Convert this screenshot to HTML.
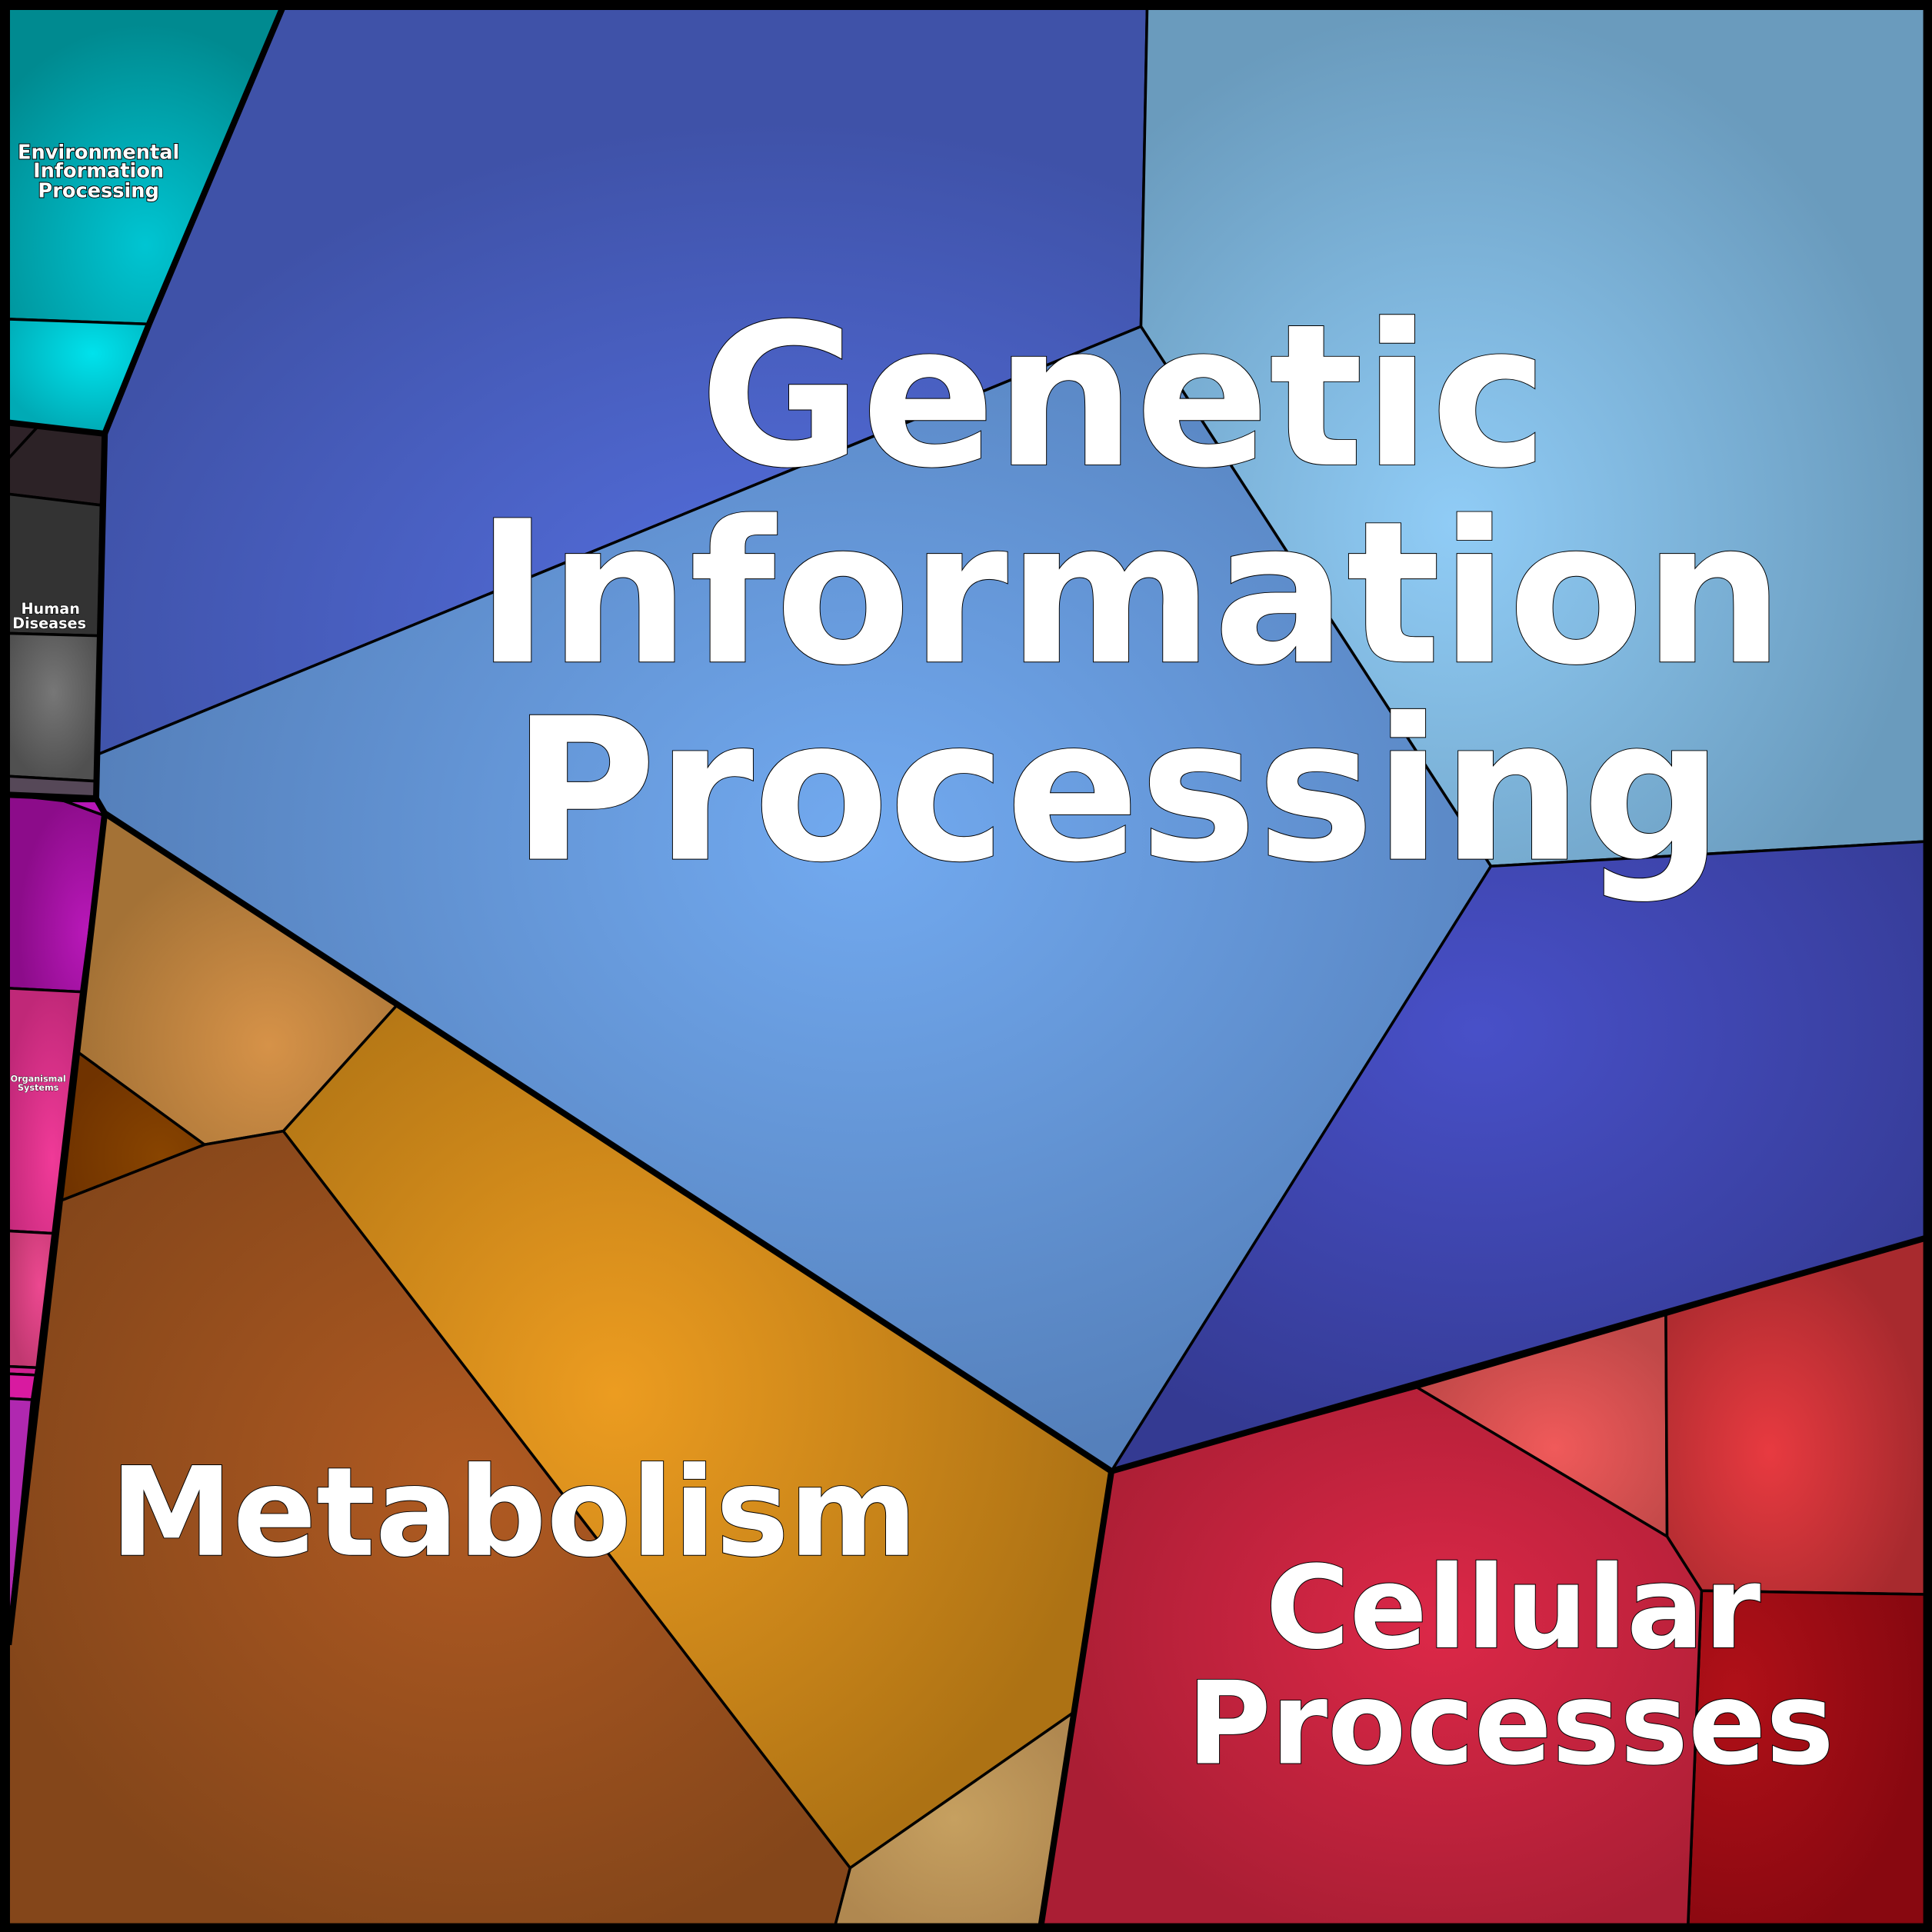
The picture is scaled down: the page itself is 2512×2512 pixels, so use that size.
<!DOCTYPE html>
<html><head><meta charset="utf-8"><style>
html,body{margin:0;padding:0;background:#000;}
svg{display:block}
text{font-family:"DejaVu Sans","Liberation Sans",sans-serif;font-weight:bold;fill:#fff;text-anchor:middle}
</style></head><body>
<svg width="2512" height="2512" viewBox="0 0 1568 1568" xmlns="http://www.w3.org/2000/svg">
<defs>
<radialGradient id="gEnv1" cx="0.5" cy="0.75" r="0.7"><stop offset="0" stop-color="#00c5d2"/><stop offset="1" stop-color="#008a90"/></radialGradient>
<radialGradient id="gEnv2" cx="0.6" cy="0.3" r="0.7"><stop offset="0" stop-color="#00e2ec"/><stop offset="1" stop-color="#00aab5"/></radialGradient>
<radialGradient id="gBlue1" cx="0.65" cy="0.85" r="0.7"><stop offset="0" stop-color="#5570e0"/><stop offset="1" stop-color="#3f52a8"/></radialGradient>
<radialGradient id="gLB" cx="0.4" cy="0.6" r="0.6"><stop offset="0" stop-color="#90ccf6"/><stop offset="1" stop-color="#6a9bbd"/></radialGradient>
<radialGradient id="gC" cx="0.55" cy="0.45" r="0.55"><stop offset="0" stop-color="#72aaf0"/><stop offset="1" stop-color="#5580bb"/></radialGradient>
<radialGradient id="gDB" cx="0.45" cy="0.3" r="0.7"><stop offset="0" stop-color="#4850c8"/><stop offset="1" stop-color="#343a92"/></radialGradient>
<radialGradient id="gTan" cx="0.6" cy="0.7" r="0.6"><stop offset="0" stop-color="#d69248"/><stop offset="1" stop-color="#a47236"/></radialGradient>
<radialGradient id="gDBr" cx="0.7" cy="0.7" r="0.7"><stop offset="0" stop-color="#884400"/><stop offset="1" stop-color="#703300"/></radialGradient>
<radialGradient id="gBr" cx="0.55" cy="0.45" r="0.6"><stop offset="0" stop-color="#b05a22"/><stop offset="1" stop-color="#84461a"/></radialGradient>
<radialGradient id="gOr" cx="0.4" cy="0.45" r="0.6"><stop offset="0" stop-color="#ec9c20"/><stop offset="1" stop-color="#ad7214"/></radialGradient>
<radialGradient id="gLT" cx="0.5" cy="0.5" r="0.6"><stop offset="0" stop-color="#c6a060"/><stop offset="1" stop-color="#b08850"/></radialGradient>
<radialGradient id="gSal" cx="0.55" cy="0.6" r="0.6"><stop offset="0" stop-color="#f05a5a"/><stop offset="1" stop-color="#c04848"/></radialGradient>
<radialGradient id="gRed" cx="0.4" cy="0.6" r="0.6"><stop offset="0" stop-color="#e83a40"/><stop offset="1" stop-color="#a82a2e"/></radialGradient>
<radialGradient id="gDR" cx="0.2" cy="0.3" r="0.8"><stop offset="0" stop-color="#b01018"/><stop offset="1" stop-color="#880810"/></radialGradient>
<radialGradient id="gCr" cx="0.6" cy="0.45" r="0.6"><stop offset="0" stop-color="#dc2848"/><stop offset="1" stop-color="#aa1e34"/></radialGradient>
<radialGradient id="gGray" cx="0.5" cy="0.4" r="0.6"><stop offset="0" stop-color="#777"/><stop offset="1" stop-color="#505050"/></radialGradient>
<radialGradient id="gMag" cx="0.8" cy="0.7" r="0.7"><stop offset="0" stop-color="#b818b8"/><stop offset="1" stop-color="#8c0c8a"/></radialGradient>
<radialGradient id="gPink" cx="0.6" cy="0.7" r="0.7"><stop offset="0" stop-color="#f03a98"/><stop offset="1" stop-color="#c02878"/></radialGradient>
<radialGradient id="gPink2" cx="0.7" cy="0.4" r="0.7"><stop offset="0" stop-color="#ec4890"/><stop offset="1" stop-color="#c03870"/></radialGradient>
</defs>
<rect width="1568" height="1568" fill="#000"/>
<g stroke="#000" stroke-width="2.2" stroke-linejoin="round">
<polygon points="7,7 229,7 121,263 7,259" fill="url(#gEnv1)"/>
<polygon points="7,259 121,263 85,352 7,343" fill="url(#gEnv2)"/>
<polygon points="7,343 30,347 7,372" fill="#2e2228"/>
<polygon points="30,347 85,352 82,410 7,401 7,372" fill="#2c2226"/>
<polygon points="7,401 82,410 80,516 7,514" fill="#333333"/>
<polygon points="7,514 80,516 78,634 7,630" fill="url(#gGray)"/>
<polygon points="7,630 78,634 78,648 7,645" fill="#564858"/>
<polygon points="7,645 52,650 85,662 66,805 7,802" fill="url(#gMag)"/>
<polygon points="52,650 78,650 85,662" fill="#b818b8"/>
<polygon points="7,802 66,805 43,1001 7,999" fill="url(#gPink)"/>
<polygon points="7,999 43,1001 30,1110 7,1109" fill="url(#gPink2)"/>
<polygon points="7,1109 30,1110 29,1116 7,1115" fill="#d02090"/>
<polygon points="7,1115 29,1116 26,1136 7,1135" fill="#d81aa0"/>
<polygon points="7,1135 26,1136 7,1330" fill="#b028b0"/>
<polygon points="229,7 931,7 926,265 80,612 85,352 121,263" fill="url(#gBlue1)"/>
<polygon points="931,7 1562,7 1562,683 1210,703 926,265" fill="url(#gLB)"/>
<polygon points="926,265 1210,703 902,1194 85,660 78,648 80,612" fill="url(#gC)"/>
<polygon points="1210,703 1562,683 1562,1005 902,1194" fill="url(#gDB)"/>
<polygon points="85,660 322,816 230,918 166,929 62,853" fill="url(#gTan)"/>
<polygon points="62,853 166,929 48,975" fill="url(#gDBr)"/>
<polygon points="48,975 166,929 230,918 690,1516 678,1562 7,1562 7,1335" fill="url(#gBr)"/>
<polygon points="322,816 902,1194 871,1390 690,1516 230,918" fill="url(#gOr)"/>
<polygon points="871,1390 845,1562 678,1562 690,1516" fill="url(#gLT)"/>
<polygon points="1150,1126 1352,1067 1353,1247" fill="url(#gSal)"/>
<polygon points="1352,1067 1562,1005 1562,1294 1381,1291 1353,1247" fill="url(#gRed)"/>
<polygon points="1381,1291 1562,1294 1562,1562 1370,1562" fill="url(#gDR)"/>
<polygon points="902,1194 1150,1126 1353,1247 1381,1291 1370,1562 845,1562" fill="url(#gCr)"/>
</g>
<g fill="none" stroke="#000" stroke-width="5" stroke-linejoin="round">
<polyline points="229,7 121,263 85,352 7,343"/>
<polyline points="85,352 78,648 7,645"/>
<polyline points="78,648 85,660 7,1335"/>
<polyline points="85,660 902,1194 1562,1005"/>
<polyline points="902,1194 845,1562"/>
</g>
<rect x="3.5" y="3.5" width="1561" height="1561" fill="none" stroke="#000" stroke-width="7"/>
<g stroke="#000" stroke-width="1.2" paint-order="stroke">
<text font-size="160" x="912" y="377">Genetic</text>
<text font-size="160" x="917" y="537">Information</text>
<text font-size="160" x="907" y="697">Processing</text>
<text font-size="100" x="417" y="1262">Metabolism</text>
<text font-size="93" x="1228" y="1337">Cellular</text>
<text font-size="93" x="1226" y="1431">Processes</text>
</g>
<g stroke="#000" stroke-width="1.2" paint-order="stroke">
<text font-size="16" x="80" y="129">Environmental</text>
<text font-size="16" x="80" y="144">Information</text>
<text font-size="16" x="80" y="160">Processing</text>
<text font-size="12" x="41" y="498" stroke-width="0.8">Human</text>
<text font-size="12" x="40" y="510" stroke-width="0.8">Diseases</text>
<text font-size="7" x="31" y="878" stroke-width="0.4">Organismal</text>
<text font-size="7" x="31" y="885" stroke-width="0.4">Systems</text>
</g>
</svg>
</body></html>
